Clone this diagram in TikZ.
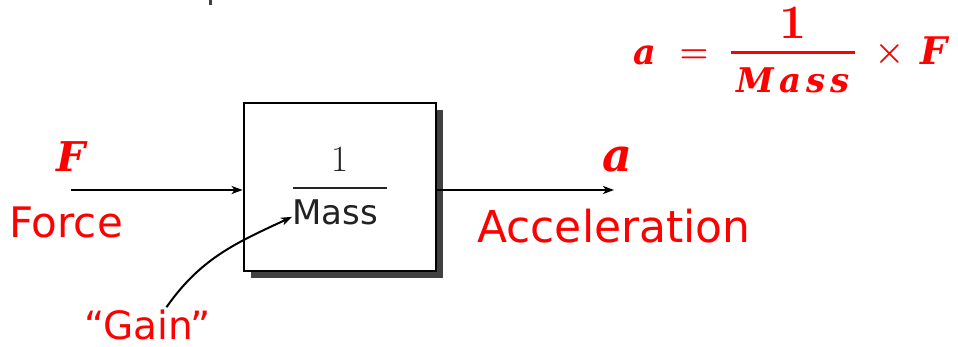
\documentclass[tikz,border=0pt]{standalone}
\usepackage{fontspec}
\newfontfamily\dvsans{DejaVu Sans}
\newfontfamily\dvserif{DejaVu Serif}
\usetikzlibrary{arrows.meta,shadows}
\definecolor{shadowgray}{HTML}{404040}
\definecolor{txtgray}{HTML}{222222}
\tikzset{
  arr/.style={line width=2pt,-{Stealth[length=11pt,width=8pt,inset=3pt]}},
  blockbox/.style={draw=black,line width=2.8pt,fill=white,minimum width=192pt,minimum height=168pt,inner sep=0pt,
    drop shadow={shadow xshift=6.5pt,shadow yshift=-7pt,fill=shadowgray,opacity=1}},
  redsans/.style={text=red,inner sep=0pt,anchor=base west,font=\dvsans\fontsize{#1}{#1}\selectfont},
  bilbl/.style={text=red,inner sep=0pt,anchor=base,font=\dvserif\fontsize{#1}{#1}\selectfont\bfseries\itshape},
  bflbl/.style={text=red,inner sep=0pt,anchor=base,font=\fontsize{#1}{#1}\selectfont\bfseries},
}
\begin{document}
\begin{tikzpicture}[x=1pt,y=-1pt]
\useasboundingbox (0,0) rectangle (958,347);
% cut-off fragment at top
\fill[shadowgray] (209,0) rectangle (212,5);
% block
\node[blockbox] (blk) at (340,187) {};
\node[inner sep=0pt,anchor=base,text=txtgray,font=\fontsize{37}{37}\selectfont] (one) at (340,172) {1};
\draw[line width=2pt,txtgray] (293,188) -- (387,188);
\node[inner sep=0pt,anchor=base west,text=txtgray,font=\dvsans\fontsize{34}{34}\selectfont] (mass) at (292,225) {Mass};
% input / output
\coordinate (in) at (71,190);
\coordinate (out) at (614,190);
\draw[arr] (in) -- (in -| blk.west);
\draw[arr] (out -| blk.east) -- (out);
% labels
\node[bilbl=41] (F) at (71,172) {F};
\node[redsans=42] (force) at (9,238) {Force};
\node[bilbl=46] (a) at (617,172) {a};
\node[redsans=44] (acc) at (477,243) {Acceleration};
\node[redsans=39,text depth=0pt] (gain) at (84,339) {\char"201C Gain\char"201D};
\draw[arr] ([xshift=19pt,yshift=2pt]gain.north) to[out=55,in=205] ([yshift=-4pt]mass.west);
% formula
\node[bilbl=35] (fa) at (645,65) {a};
\node[bflbl=33] (feq) at (694,63) {=};
\node[bflbl=48] (f1) at (793,39) {1};
\draw[red,line width=3pt] (731,53) -- (855,53);
\node[bilbl=34] (fm) at (793,93) {M\kern5pt a\kern5pt s\kern5pt s};
\node[bflbl=34] (ftimes) at (889.5,63) {\char"00D7};
\node[bilbl=38] (fF) at (934,65) {F};
\end{tikzpicture}
\end{document}
